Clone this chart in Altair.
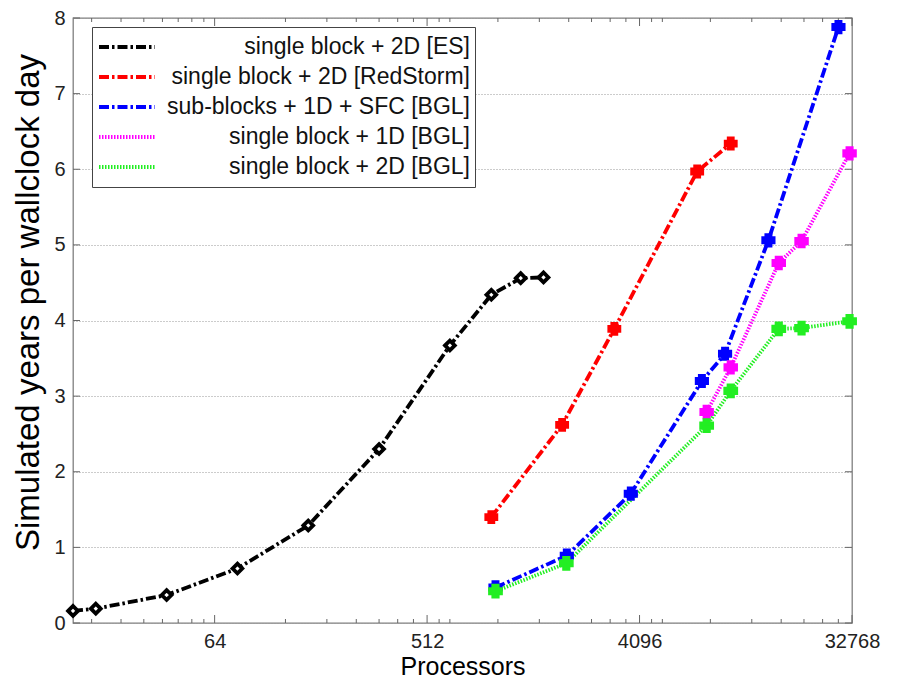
import altair as alt
import pandas as pd

series_names = [
    "single block + 2D [ES]",
    "single block + 2D [RedStorm]",
    "sub-blocks + 1D + SFC [BGL]",
    "single block + 1D [BGL]",
    "single block + 2D [BGL]",
]
marker_keys = ["ES marker", "RedStorm marker", "SFC marker", "1D marker", "2D marker"]
line_colors = ["#000000", "#ff0000", "#0000ff", "#ff00ff", "#22ee22"]
fill_colors = ["#ffffff", "#ff0000", "#0000ff", "#ff00ff", "#22ee22"]
marker_shapes = ["diamond", "cross", "cross", "cross", "cross"]
marker_sizes = [95, 120, 120, 120, 120]
marker_strokes = [4.5, 2.2, 2.2, 2.2, 2.2]
dash_patterns = [[10, 3, 2.5, 3], [10, 3, 2.5, 3], [10, 3, 2.5, 3], [1.5, 1.5], [1.5, 1.5]]
line_widths = [3.8, 3.8, 3.8, 3.0, 3.0]

es_procs = [16, 20, 40, 80, 160, 320, 640, 960, 1280, 1600]
es_years = [0.16, 0.19, 0.37, 0.72, 1.29, 2.30, 3.67, 4.34, 4.56, 4.57]

rs_procs = [960, 1920, 3200, 7200, 10000]
rs_years = [1.40, 2.62, 3.89, 5.97, 6.34]

sb_procs = [1000, 2010, 3760, 7540, 9460, 14460, 28700]
sb_years = [0.47, 0.89, 1.71, 3.20, 3.56, 5.06, 7.88]

b1_procs = [7900, 10000, 16000, 20000, 32000]
b1_years = [2.79, 3.38, 4.76, 5.05, 6.21]

b2_procs = [1000, 2000, 7900, 10000, 16000, 20000, 32000]
b2_years = [0.42, 0.79, 2.61, 3.07, 3.89, 3.90, 3.99]

major_ticks = [64, 512, 4096, 32768]
minor_ticks = [19.2, 25.6, 32, 38.4, 44.8, 51.2, 57.6,
               128, 192, 256, 320, 384, 448, 576, 640,
               1024, 1536, 2048, 2560, 3072, 3584, 4608, 5120,
               8192, 12288, 16384, 20480, 24576, 28672]
y_ticks = [0, 1, 2, 3, 4, 5, 6, 7, 8]

rows = []
for name, key, xs, ys in zip(series_names, marker_keys,
                             [es_procs, rs_procs, sb_procs, b1_procs, b2_procs],
                             [es_years, rs_years, sb_years, b1_years, b2_years]):
    for xv, yv in zip(xs, ys):
        rows.append({"series": name, "mk": key, "procs": xv, "years": yv})
df = pd.DataFrame(rows)

W, H = 779, 605

x_enc = alt.X(
    "procs:Q",
    scale=alt.Scale(type="log", base=2, domain=[16, 32768], nice=False),
    axis=alt.Axis(values=major_ticks, format="d", title="Processors", grid=False,
                  ticks=False, tickSize=0, domain=False, labelFlush=False, labelOverlap=False,
                  labelFontSize=20, labelPadding=8, titleFontSize=25, titlePadding=3),
)
y_enc = alt.Y(
    "years:Q",
    scale=alt.Scale(domain=[0, 8], nice=False),
    axis=alt.Axis(values=y_ticks, format="d", title="Simulated years per wallclock day",
                  grid=True, gridDash=[1, 2], gridColor="#999999", gridWidth=1,
                  ticks=False, tickSize=0, domain=False, labelFontSize=20, labelPadding=8,
                  titleFontSize=33, titlePadding=8, titleY=284),
)

line_legend = alt.Legend(
    title=None, orient="none", legendX=19, legendY=9, direction="vertical",
    symbolType="stroke", symbolSize=3136, symbolStrokeWidth=3.8, clipHeight=30,
    rowPadding=0, padding=5, labelFont="Liberation Sans", labelFontSize=23,
    labelColor="#111111", labelAlign="right", labelOffset=313, labelLimit=400,
    strokeColor="#444444", fillColor="white",
)

lines = alt.Chart(df).mark_line(strokeCap="butt").encode(
    x=x_enc, y=y_enc,
    color=alt.Color("series:N", scale=alt.Scale(domain=series_names, range=line_colors),
                    legend=line_legend, sort=series_names),
    strokeDash=alt.StrokeDash("series:N", scale=alt.Scale(domain=series_names, range=dash_patterns),
                              legend=line_legend, sort=series_names),
    strokeWidth=alt.StrokeWidth("series:N", scale=alt.Scale(domain=series_names, range=line_widths),
                                legend=None),
    detail="series:N",
)

points = alt.Chart(df).mark_point(opacity=1).encode(
    x=x_enc, y=y_enc,
    stroke=alt.Stroke("mk:N", scale=alt.Scale(domain=marker_keys, range=line_colors), legend=None),
    fill=alt.Fill("mk:N", scale=alt.Scale(domain=marker_keys, range=fill_colors), legend=None),
    shape=alt.Shape("mk:N", scale=alt.Scale(domain=marker_keys, range=marker_shapes), legend=None),
    size=alt.Size("mk:N", scale=alt.Scale(domain=marker_keys, range=marker_sizes), legend=None),
    strokeWidth=alt.StrokeWidth("mk:N", scale=alt.Scale(domain=marker_keys, range=marker_strokes),
                                legend=None),
)

minor_df = pd.DataFrame({"procs": minor_ticks})
major_df = pd.DataFrame({"procs": major_ticks})
ytick_df = pd.DataFrame({"years": y_ticks})

tick_color = "#666666"
minor_bottom = alt.Chart(minor_df).mark_rule(color=tick_color, strokeWidth=1).encode(
    x=x_enc, y=alt.value(H), y2=alt.value(H - 4))
minor_top = alt.Chart(minor_df).mark_rule(color=tick_color, strokeWidth=1).encode(
    x=x_enc, y=alt.value(0), y2=alt.value(4))
major_bottom = alt.Chart(major_df).mark_rule(color=tick_color, strokeWidth=1).encode(
    x=x_enc, y=alt.value(H), y2=alt.value(H - 8))
major_top = alt.Chart(major_df).mark_rule(color=tick_color, strokeWidth=1).encode(
    x=x_enc, y=alt.value(0), y2=alt.value(8))
ytick_left = alt.Chart(ytick_df).mark_rule(color=tick_color, strokeWidth=1).encode(
    y=y_enc, x=alt.value(0), x2=alt.value(7))
ytick_right = alt.Chart(ytick_df).mark_rule(color=tick_color, strokeWidth=1).encode(
    y=y_enc, x=alt.value(W - 7), x2=alt.value(W))

chart = alt.layer(
    minor_bottom, minor_top, major_bottom, major_top, ytick_left, ytick_right,
    lines, points,
).properties(
    width=W, height=H,
    autosize=alt.AutoSizeParams(type="none"),
    padding={"left": 65, "top": 10, "right": 38, "bottom": 55},
).configure_view(
    stroke="#7f7f7f", strokeWidth=1.3
).configure_axis(
    labelFont="Liberation Sans", titleFont="Liberation Sans",
    labelColor="#222222", titleColor="#000000", titleFontWeight="normal",
)

chart.save("out.html", embed_options={"renderer": "svg", "actions": False})
